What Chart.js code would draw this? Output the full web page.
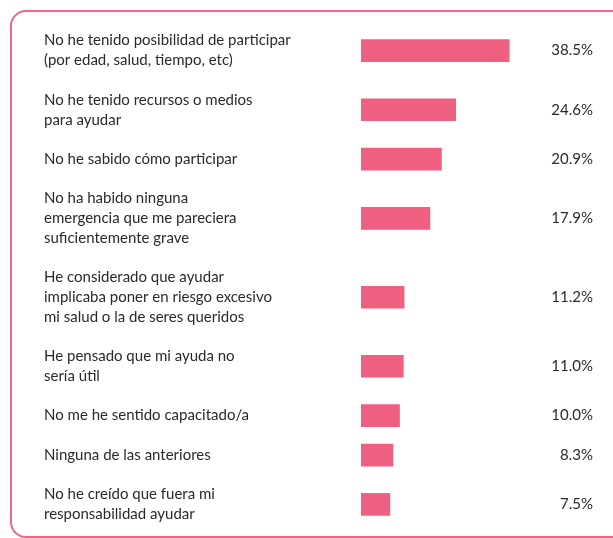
<!DOCTYPE html>
<html>
<head>
<meta charset="utf-8">
<script src="https://cdn.jsdelivr.net/npm/chart.js@4.4.0/dist/chart.umd.min.js"></script>
<style>
  html, body { margin: 0; padding: 0; background: #fff; overflow: hidden; }
  #wrap { position: relative; width: 613px; height: 538px; }
  #frame {
    position: absolute; left: 10px; top: 10px; width: 640px; height: 528px;
    border: 2px solid #f0658a; border-radius: 16px; box-sizing: border-box;
  }
  #chart { position: absolute; left: 0; top: 0; }
</style>
</head>
<body>
<div id="wrap">
  <div id="frame"></div>
  <canvas id="chart" width="613" height="538"></canvas>
</div>
<script>
// categories (one entry per bar, each split into its printed lines)
const categories = [
  ['No he tenido posibilidad de participar', '(por edad, salud, tiempo, etc)'],
  ['No he tenido recursos o medios', 'para ayudar'],
  ['No he sabido cómo participar'],
  ['No ha habido ninguna', 'emergencia que me pareciera', 'suficientemente grave'],
  ['He considerado que ayudar', 'implicaba poner en riesgo excesivo', 'mi salud o la de seres queridos'],
  ['He pensado que mi ayuda no', 'sería útil'],
  ['No me he sentido capacitado/a'],
  ['Ninguna de las anteriores'],
  ['No he creído que fuera mi', 'responsabilidad ayudar']
];
const values = [38.5, 24.6, 20.9, 17.9, 11.2, 11.0, 10.0, 8.3, 7.5];

const barColor = '#ef5f80';
const textColor = '#2a2a2a';
const fontFamily = 'Lato, "Open Sans", sans-serif';

// each row takes as much room as its label has lines, plus one line of gap
const rowPos = [];
let acc = 0;
categories.forEach((lines) => {
  const h = lines.length + 1;
  rowPos.push(acc + h / 2);
  acc += h;
});
const rowTotal = acc;

const padLeft = 44;
const barStart = 361;

// percentages at the right end of each row
const valueLabels = {
  id: 'valueLabels',
  afterDatasetsDraw(chart) {
    const ctx = chart.ctx;
    const meta = chart.getDatasetMeta(0);
    ctx.save();
    ctx.font = '15px ' + fontFamily;
    ctx.fillStyle = textColor;
    ctx.textAlign = 'right';
    ctx.textBaseline = 'middle';
    meta.data.forEach((bar, i) => {
      ctx.fillText(values[i].toFixed(1) + '%', chart.chartArea.right + 1, bar.y);
    });
    ctx.restore();
  }
};

const ctx = document.getElementById('chart').getContext('2d');
new Chart(ctx, {
  type: 'bar',
  data: {
    datasets: [{
      data: values.map((v, i) => ({ x: v, y: rowPos[i] })),
      backgroundColor: barColor,
      borderWidth: 0,
      barThickness: 22
    }]
  },
  options: {
    indexAxis: 'y',
    responsive: false,
    animation: false,
    layout: { padding: { left: padLeft, right: 21, top: 21, bottom: 4 } },
    plugins: { legend: { display: false }, tooltip: { enabled: false } },
    scales: {
      x: { display: false, min: 0, max: 60 },
      y: {
        type: 'linear',
        reverse: true,
        offset: false,
        min: 0,
        max: rowTotal,
        grid: { display: false },
        border: { display: false },
        afterBuildTicks: (scale) => {
          scale.ticks = rowPos.map((v) => ({ value: v }));
        },
        afterFit: (scale) => {
          scale.width = barStart - padLeft;
          scale.paddingTop = 0;
          scale.paddingBottom = 0;
        },
        ticks: {
          autoSkip: false,
          crossAlign: 'far',
          color: textColor,
          font: { family: fontFamily, size: 15, lineHeight: 1.33 },
          callback: (value, index) => categories[index]
        }
      }
    }
  },
  plugins: [valueLabels]
});
</script>
</body>
</html>
